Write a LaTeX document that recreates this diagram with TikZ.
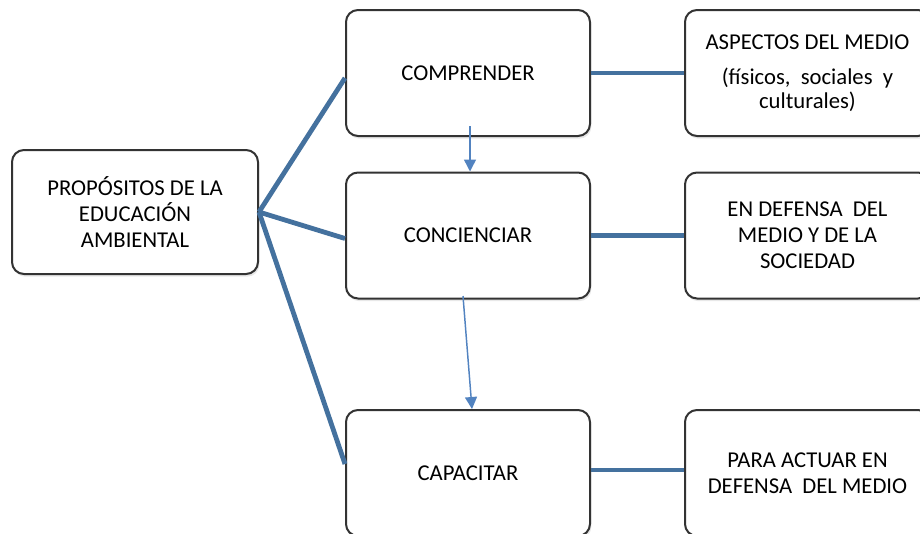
\documentclass[tikz,border=0pt]{standalone}
\usepackage{fontspec}
\setmainfont{Carlito}
\usetikzlibrary{calc,shadows,arrows.meta}
\definecolor{linkblue}{HTML}{44719E}
\definecolor{arrowblue}{HTML}{5283C0}
\definecolor{boxline}{HTML}{333333}
\begin{document}
\begin{tikzpicture}[x=0.75pt,y=-0.75pt,
  card/.style={draw=boxline, line width=1.5pt, rounded corners=9pt, fill=white,
    align=center, inner sep=0pt, font=\fontsize{17}{19.5}\selectfont,
    drop shadow={opacity=0.18, shadow xshift=1pt, shadow yshift=-2pt}},
  leftcard/.style={card, minimum width=184.5pt, minimum height=93pt},
  midcard/.style={card, minimum width=183pt, minimum height=94.5pt},
  rightcard/.style={card, minimum width=183.75pt, minimum height=94.5pt},
  link/.style={draw=linkblue, line width=3.6pt},
  flow/.style={draw=arrowblue, line width=1.1pt, -{Triangle[length=9pt,width=9pt]}}]
\useasboundingbox (0,0) rectangle (920,533);
\clip (0,0) rectangle (920,533);

% boxes
\node[leftcard] (prop) at (135,212) {PROPÓSITOS DE LA\\EDUCACIÓN\\AMBIENTAL};
\node[midcard] (comp) at (468,73) {COMPRENDER};
\node[midcard] (conc) at (468,235.5) {CONCIENCIAR};
\node[midcard] (cap) at (468,473) {CAPACITAR};
\node[rightcard] (asp) at (807.5,73) {ASPECTOS DEL MEDIO\\[6.5pt](físicos,\ \ sociales\ \ y\\[-1.5pt]culturales)};
\node[rightcard] (def) at (807.5,235.5) {EN DEFENSA\ \ DEL\\MEDIO Y DE LA\\SOCIEDAD};
\node[rightcard] (act) at (807.5,473) {PARA ACTUAR EN\\DEFENSA\ \ DEL MEDIO};

% thick links from the main box
\draw[link] (prop.east) -- ($(comp.west)+(0,5)$);
\draw[link] (prop.east) -- ($(conc.west)+(0,3)$);
\draw[link] (prop.east) -- ($(cap.west)+(0,-9)$);

% thick links to the descriptions
\draw[link] (comp.east) -- (asp.west);
\draw[link] (conc.east) -- (def.west);
\draw[link] ($(cap.east)+(0,-3)$) -- ($(act.west)+(0,-3)$);

% thin arrows between the steps
\coordinate (a1s) at (470,126);
\draw[flow] (a1s) -- (a1s |- conc.north);
\coordinate (a2s) at (463,296);
\draw[flow] (a2s) -- ($(cap.north)+(4,0)$);
\end{tikzpicture}
\end{document}
